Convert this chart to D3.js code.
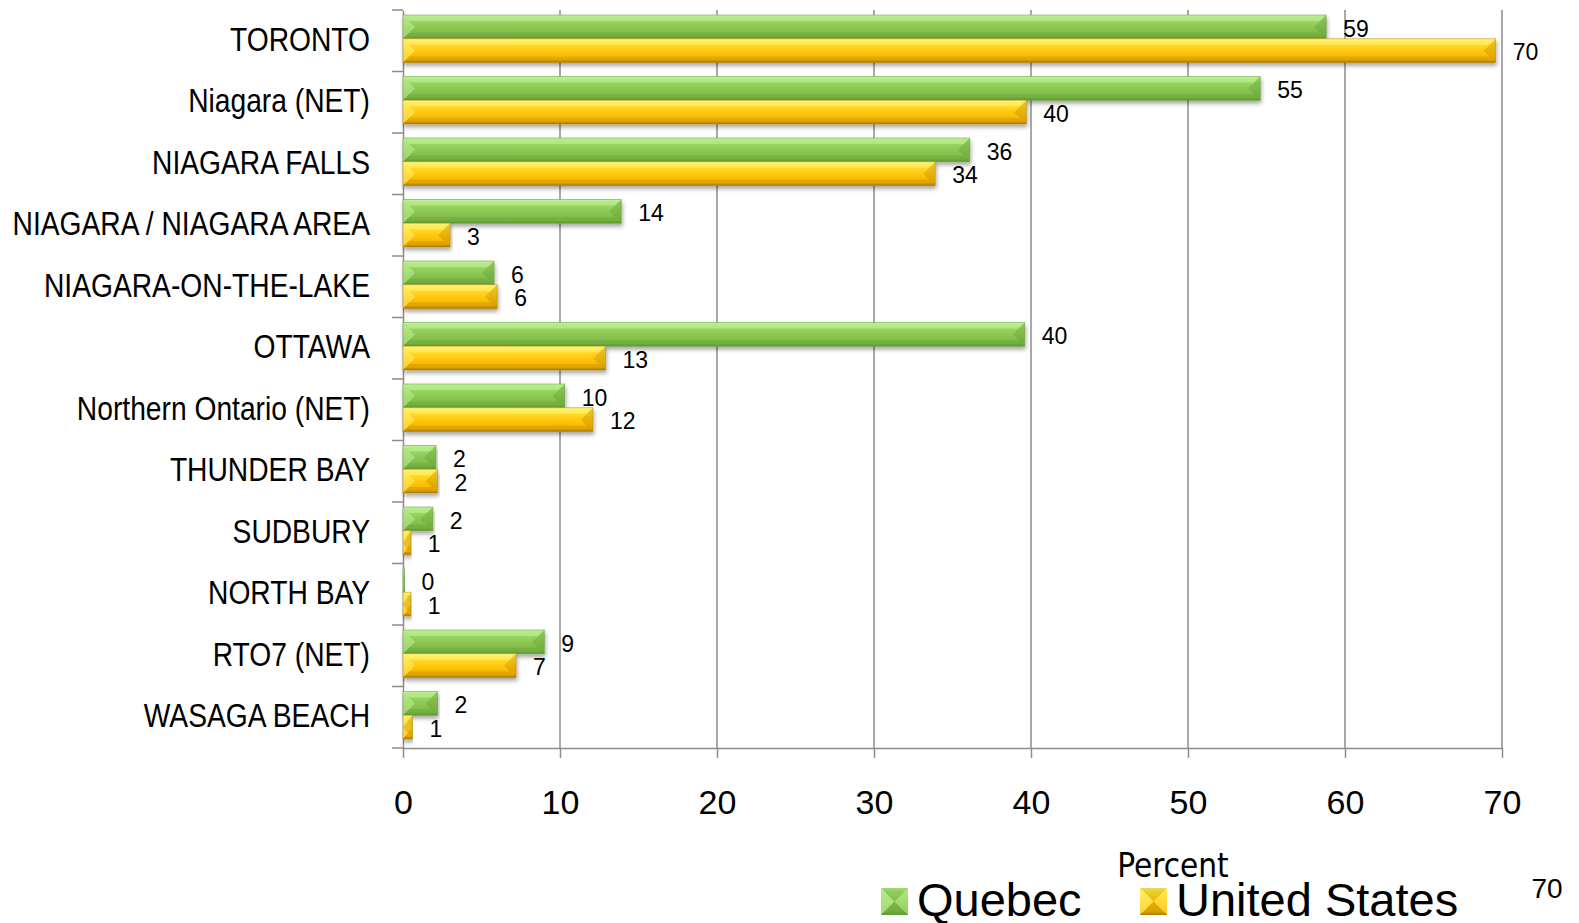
<!DOCTYPE html>
<html>
<head>
<meta charset="utf-8">
<script src="https://cdn.jsdelivr.net/npm/d3@7"></script>
<style>
  body { margin: 0; background: #fff; }
  svg { display: block; }
</style>
</head>
<body>
<div id="chart"></div>
<script>
// chart data
var categories = ["TORONTO", "Niagara (NET)", "NIAGARA FALLS", "NIAGARA / NIAGARA AREA",
  "NIAGARA-ON-THE-LAKE", "OTTAWA", "Northern Ontario (NET)", "THUNDER BAY",
  "SUDBURY", "NORTH BAY", "RTO7 (NET)", "WASAGA BEACH"];
var quebec = [58.8, 54.6, 36.1, 13.9, 5.8, 39.6, 10.3, 2.1, 1.9, 0.1, 9.0, 2.2];
var unitedStates = [69.6, 39.7, 33.9, 3.0, 6.0, 12.9, 12.1, 2.2, 0.5, 0.5, 7.2, 0.6];
var seriesNames = ["Quebec", "United States"];
var xTicks = [0, 10, 20, 30, 40, 50, 60, 70];

// plot box (window.top is reserved, so use other names)
var W = 1579, H = 923;
var plotLeft = 403, plotRight = 1502, plotTop = 10, plotBottom = 748;
var narrow = 0.83; // squeeze for the Arial Narrow look of the category names

var svg = d3.select("#chart").append("svg")
    .attr("width", W)
    .attr("height", H);

var defs = svg.append("defs");

// bar gradients
function grad(id, stops) {
  var g = defs.append("linearGradient").attr("id", id)
      .attr("x1", 0).attr("y1", 0).attr("x2", 0).attr("y2", 1);
  stops.forEach(function (s) {
    g.append("stop").attr("offset", s[0]).attr("stop-color", s[1]);
  });
}
grad("gGreen", [[0, "#b8ee8e"], [0.12, "#a0dc6c"], [0.5, "#8cc852"], [0.88, "#7cb744"], [1, "#5e9630"]]);
grad("gYellow", [[0, "#fff38a"], [0.12, "#ffe53a"], [0.5, "#ffc80c"], [0.88, "#f2b200"], [1, "#a07400"]]);

var f = defs.append("filter").attr("id", "shadow")
    .attr("x", "-5%").attr("y", "-30%").attr("width", "110%").attr("height", "180%");
f.append("feDropShadow").attr("dx", 1).attr("dy", 3).attr("stdDeviation", 2)
    .attr("flood-color", "#000").attr("flood-opacity", 0.35);

var x = d3.scaleLinear().domain([0, 70]).range([plotLeft, plotRight]);
var y = d3.scaleBand().domain(categories).range([plotTop, plotBottom]);
var inner = d3.scaleBand().domain(seriesNames)
    .range([5, y.bandwidth() - 9]);

var colors = {
  "Quebec": {fill: "url(#gGreen)", light: "#c4f49c", dark: "#5f9c33"},
  "United States": {fill: "url(#gYellow)", light: "#fff37a", dark: "#b98600"}
};

// grid lines
svg.append("g").selectAll("line")
    .data(xTicks.slice(1))
    .enter().append("line")
    .attr("x1", d => x(d)).attr("x2", d => x(d))
    .attr("y1", plotTop).attr("y2", plotBottom)
    .attr("stroke", "#8c8c8c").attr("stroke-width", 1.5);

// x axis
var xAxis = svg.append("g")
    .attr("transform", "translate(0," + plotBottom + ")")
    .call(d3.axisBottom(x).tickValues(xTicks).tickSize(10).tickSizeOuter(0).tickPadding(32));
xAxis.select(".domain").attr("stroke", "#8c8c8c").attr("stroke-width", 1.5);
xAxis.selectAll(".tick line").attr("stroke", "#8c8c8c").attr("stroke-width", 1.5);
xAxis.selectAll("text")
    .attr("font-family", "'Liberation Sans', Arial, sans-serif")
    .attr("font-size", 34).attr("fill", "#000");

// y axis
var yAxis = svg.append("g")
    .attr("transform", "translate(" + plotLeft + ",0)")
    .call(d3.axisLeft(y).tickSize(0).tickPadding(0));
yAxis.select(".domain").attr("stroke", "#8c8c8c").attr("stroke-width", 1.5);
yAxis.selectAll("text")
    .attr("font-family", "'Liberation Sans', Arial, sans-serif")
    .attr("font-size", 34).attr("fill", "#000")
    .attr("x", -33 / narrow)
    .attr("dy", "0.3em")
    .attr("transform", "scale(" + narrow + ",1)");
// band boundary ticks
svg.append("g").selectAll("line")
    .data(d3.range(categories.length + 1))
    .enter().append("line")
    .attr("x1", plotLeft - 11).attr("x2", plotLeft)
    .attr("y1", i => plotTop + i * y.step()).attr("y2", i => plotTop + i * y.step())
    .attr("stroke", "#8c8c8c").attr("stroke-width", 1.5);

// bars
var rows = categories.map(function (c, i) {
  return {cat: c, values: [{s: "Quebec", v: quebec[i]}, {s: "United States", v: unitedStates[i]}]};
});

var groups = svg.append("g").selectAll("g")
    .data(rows)
    .enter().append("g")
    .attr("transform", d => "translate(0," + y(d.cat) + ")");

var bars = groups.selectAll("g.bar")
    .data(d => d.values)
    .enter().append("g")
    .attr("class", "bar")
    .attr("filter", "url(#shadow)");

bars.each(function (d) {
  var g = d3.select(this);
  var x0 = x(0), w = x(d.v) - x(0), y0 = inner(d.s), h = inner.bandwidth();
  var b = Math.min(6, w / 2);
  var c = colors[d.s];
  g.append("rect").attr("x", x0).attr("y", y0).attr("width", w).attr("height", h)
      .attr("fill", c.fill);
  if (w > 1) {
    // bevel facets
    g.append("polygon")
        .attr("points", [[x0, y0], [x0 + w, y0], [x0 + w - b, y0 + b], [x0 + b, y0 + b]].join(" "))
        .attr("fill", c.light).attr("opacity", 0.55);
    g.append("polygon")
        .attr("points", [[x0, y0], [x0 + b * 2, y0 + h / 2], [x0, y0 + h]].join(" "))
        .attr("fill", c.light).attr("opacity", 0.5);
    g.append("polygon")
        .attr("points", [[x0 + w, y0], [x0 + w - b * 2, y0 + h / 2], [x0 + w, y0 + h]].join(" "))
        .attr("fill", c.dark).attr("opacity", 0.35);
    g.append("polygon")
        .attr("points", [[x0, y0 + h], [x0 + w, y0 + h], [x0 + w - b, y0 + h - b], [x0 + b, y0 + h - b]].join(" "))
        .attr("fill", c.dark).attr("opacity", 0.3);
  }
  g.append("rect").attr("x", x0).attr("y", y0).attr("width", w).attr("height", h)
      .attr("fill", "none").attr("stroke", c.dark).attr("stroke-width", 0.8).attr("stroke-opacity", 0.6);
});

// value labels
groups.selectAll("text.val")
    .data(d => d.values)
    .enter().append("text")
    .attr("class", "val")
    .attr("x", d => x(d.v) + 17)
    .attr("y", d => inner(d.s) + inner.bandwidth() / 2 + 1.5)
    .attr("dy", "0.36em")
    .attr("font-family", "'Liberation Sans', Arial, sans-serif")
    .attr("font-size", 23)
    .text(d => d3.format(".0f")(d.v));

// axis title
svg.append("text")
    .attr("x", 1173).attr("y", 877)
    .attr("text-anchor", "middle")
    .attr("font-family", "'DejaVu Sans Condensed', 'DejaVu Sans', sans-serif")
    .attr("font-size", 33)
    .text("Percent");

// legend
var legendX = [881, 1140];
var legend = svg.append("g").selectAll("g")
    .data(seriesNames)
    .enter().append("g")
    .attr("transform", (d, i) => "translate(" + legendX[i] + ",888)");

legend.each(function (d) {
  var g = d3.select(this), s = 27, c = colors[d];
  g.append("rect").attr("width", s).attr("height", s).attr("fill", c.fill);
  g.append("polygon").attr("points", [[0, 0], [s, 0], [s / 2, s / 2]].join(" ")).attr("fill", c.dark).attr("opacity", 0.25);
  g.append("polygon").attr("points", [[0, 0], [0, s], [s / 2, s / 2]].join(" ")).attr("fill", c.light).attr("opacity", 0.6);
  g.append("polygon").attr("points", [[s, 0], [s, s], [s / 2, s / 2]].join(" ")).attr("fill", c.light).attr("opacity", 0.4);
  g.append("polygon").attr("points", [[0, s], [s, s], [s / 2, s / 2]].join(" ")).attr("fill", c.dark).attr("opacity", 0.4);
  g.append("text")
      .attr("x", s + 9).attr("y", 28)
      .attr("font-family", "'Liberation Sans', Arial, sans-serif")
      .attr("font-size", 47)
      .text(d);
});

// stray max label bottom right
svg.append("text")
    .attr("x", 1547).attr("y", 898)
    .attr("text-anchor", "middle")
    .attr("font-family", "'Liberation Sans', Arial, sans-serif")
    .attr("font-size", 28)
    .text(xTicks[xTicks.length - 1]);
</script>
</body>
</html>
